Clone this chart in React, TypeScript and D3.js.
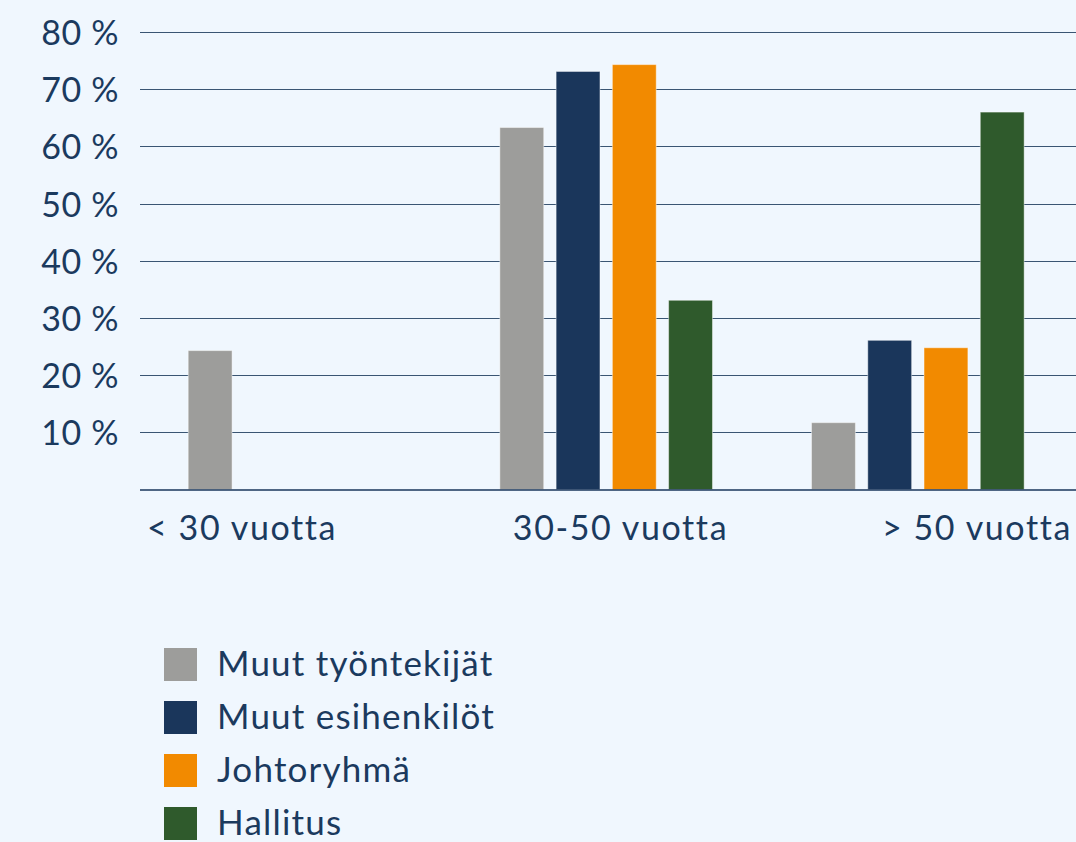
import React, { useEffect, useRef } from 'react';
import * as d3 from 'd3';

const groups = ['< 30 vuotta', '30-50 vuotta', '> 50 vuotta'];
const seriesNames = ['Muut työntekijät', 'Muut esihenkilöt', 'Johtoryhmä', 'Hallitus'];
const seriesColors = ['#9d9d9b', '#1a365b', '#f28a00', '#2f5a2c'];
const muutTyontekijat = [24.3, 63.3, 11.7];
const muutEsihenkilot = [0, 73.1, 26.1];
const johtoryhma = [0, 74.3, 24.8];
const hallitus = [0, 33.1, 66.0];
const yTicks = [10, 20, 30, 40, 50, 60, 70, 80];

const W = 1076;
const H = 842;
const textColor = '#1b3a5e';
const font = 'Lato, "Open Sans", sans-serif';

const App = () => {
  const svgRef = useRef(null);

  useEffect(() => {
    document.body.style.margin = '0';
    const svg = d3.select(svgRef.current);
    svg.selectAll('*').remove();

    const values = [muutTyontekijat, muutEsihenkilot, johtoryhma, hallitus];
    const rows = groups.map((g, gi) => ({
      group: g,
      bars: seriesNames.map((s, si) => ({ series: s, color: seriesColors[si], value: values[si][gi] })),
    }));

    const x0 = d3.scaleBand().domain(groups).range([140, 1075]);
    const x1 = d3.scaleBand().domain(seriesNames).range([42, 267]).paddingInner(0.22).paddingOuter(0.11);
    const y = d3.scaleLinear().domain([0, 80]).range([489.6, 32]);

    svg.append('rect').attr('width', W).attr('height', H).attr('fill', '#f0f7fe');

    // gridlines
    svg.append('g')
      .selectAll('line')
      .data(yTicks)
      .enter()
      .append('line')
      .attr('x1', 140)
      .attr('x2', W)
      .attr('y1', d => Math.round(y(d)) + 0.5)
      .attr('y2', d => Math.round(y(d)) + 0.5)
      .attr('stroke', '#3a5573')
      .attr('stroke-width', 1);

    svg.append('g')
      .selectAll('text')
      .data(yTicks)
      .enter()
      .append('text')
      .attr('x', 119)
      .attr('y', d => y(d) + 13)
      .attr('text-anchor', 'end')
      .attr('font-family', font)
      .attr('font-size', 34)
      .attr('letter-spacing', 0.6)
      .attr('fill', textColor)
      .text(d => `${d} %`);

    // bars
    const g = svg.append('g')
      .selectAll('g')
      .data(rows)
      .enter()
      .append('g')
      .attr('transform', d => `translate(${x0(d.group)},0)`);

    g.selectAll('rect')
      .data(d => d.bars.filter(b => b.value > 0))
      .enter()
      .append('rect')
      .attr('x', d => x1(d.series))
      .attr('y', d => y(d.value))
      .attr('width', x1.bandwidth())
      .attr('height', d => y(0) - y(d.value))
      .attr('fill', d => d.color)
      .attr('stroke', 'rgba(255,255,255,0.45)')
      .attr('stroke-width', 1);

    // baseline
    svg.append('line')
      .attr('x1', 140)
      .attr('x2', W)
      .attr('y1', y(0) + 0.5)
      .attr('y2', y(0) + 0.5)
      .attr('stroke', '#1a365b')
      .attr('stroke-width', 1.5);

    // x labels
    const anchors = ['start', 'middle', 'end'];
    const labelX = (d, i) => {
      const start = x0(d);
      if (i === 0) return start + 7;
      if (i === 1) return start + x0.bandwidth() / 2 + 13;
      return start + x0.bandwidth() - 3;
    };
    svg.append('g')
      .selectAll('text')
      .data(groups)
      .enter()
      .append('text')
      .attr('x', labelX)
      .attr('y', 540)
      .attr('text-anchor', (d, i) => anchors[i])
      .attr('font-family', font)
      .attr('font-size', 34)
      .attr('letter-spacing', 1.6)
      .attr('fill', textColor)
      .text(d => d);

    // legend
    const legend = svg.append('g')
      .selectAll('g')
      .data(seriesNames)
      .enter()
      .append('g')
      .attr('transform', (d, i) => `translate(0,${676 + i * 53})`);

    legend.append('rect')
      .attr('x', 164)
      .attr('y', -28)
      .attr('width', 33)
      .attr('height', 33)
      .attr('fill', (d, i) => seriesColors[i]);

    legend.append('text')
      .attr('x', 217)
      .attr('y', 0)
      .attr('font-family', font)
      .attr('font-size', 35)
      .attr('letter-spacing', 1.2)
      .attr('fill', textColor)
      .text(d => d);
  }, []);

  return <svg ref={svgRef} width={W} height={H} style={{ display: 'block' }}></svg>;
};

export default App;
